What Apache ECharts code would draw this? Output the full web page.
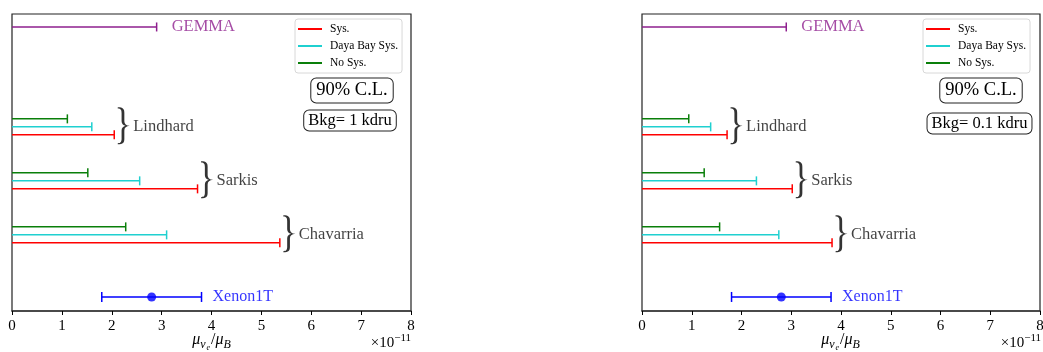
<!DOCTYPE html>
<html>
<head>
<meta charset="utf-8">
<script src="https://cdn.jsdelivr.net/npm/echarts@6/dist/echarts.min.js"></script>
<style>html,body{margin:0;padding:0;background:#fff}#c{width:1043px;height:352px}</style>
</head>
<body>
<div id="c"></div>
<script>
// ---- data ----
const groups = ['Lindhard', 'Sarkis', 'Chavarria'];
const groupY = [3.15, 2.15, 1.15];
const rowOffset = 0.148;
const seriesNames = ['Sys.', 'Daya Bay Sys.', 'No Sys.'];
// Bkg = 1 kdru (left panel)
const bkg1Sys = [2.05, 3.72, 5.37];
const bkg1Daya = [1.60, 2.56, 3.10];
const bkg1NoSys = [1.11, 1.52, 2.28];
// Bkg = 0.1 kdru (right panel)
const bkg01Sys = [1.71, 3.02, 3.82];
const bkg01Daya = [1.38, 2.30, 2.75];
const bkg01NoSys = [0.94, 1.25, 1.56];
const gemmaLimit = 2.9;
const gemmaY = 5.0;
const xenonCenter = 2.8;
const xenonLow = 1.8;
const xenonHigh = 3.8;
const xenonY = 0.0;
const xTicks = [0, 1, 2, 3, 4, 5, 6, 7, 8];
const panelTitles = ['Bkg= 1 kdru', 'Bkg= 0.1 kdru'];

const FONT = '"Liberation Serif", "Times New Roman", serif';
const colors = { 'Sys.': '#ff0000', 'Daya Bay Sys.': '#1fd0d0', 'No Sys.': '#0a7f0a' };
const gemmaColor = '#8e1f8e';
const xenonColor = '#0000ff';
const bracePath = 'path://M0,0 C4.5,0 5.5,2 5.5,6 L5.5,15 C5.5,18 7,19.6 10,20 C7,20.4 5.5,22 5.5,25 L5.5,34 C5.5,38 4.5,40 0,40 L0,38.8 C2.6,38.8 3.2,37 3.2,34 L3.2,25 C3.2,22.5 4.4,20.8 6.5,20 C4.4,19.2 3.2,17.5 3.2,15 L3.2,6 C3.2,3 2.6,1.2 0,1.2 Z';

function errRender(capLow, capHalf) {
  return function (params, api) {
    const lo = api.coord([api.value(0), api.value(2)]);
    const hi = api.coord([api.value(1), api.value(2)]);
    const c = api.visual('color');
    const st = { stroke: c, lineWidth: 1.5 };
    const ch = [
      { type: 'line', shape: { x1: lo[0], y1: lo[1], x2: hi[0], y2: hi[1] }, style: st },
      { type: 'line', shape: { x1: hi[0], y1: hi[1] - capHalf, x2: hi[0], y2: hi[1] + capHalf }, style: st }
    ];
    if (capLow) ch.push({ type: 'line', shape: { x1: lo[0], y1: lo[1] - capHalf, x2: lo[0], y2: lo[1] + capHalf }, style: st });
    return { type: 'group', children: ch };
  };
}

const grids = [
  { left: 12, right: 632, top: 14, bottom: 41 },
  { left: 642, right: 3, top: 14, bottom: 41 }
];
const panelData = [
  [bkg1Sys, bkg1Daya, bkg1NoSys],
  [bkg01Sys, bkg01Daya, bkg01NoSys]
];

const series = [];
const xAxes = [], yAxes = [];
grids.forEach((g, p) => {
  Object.assign(g, { show: true, borderColor: '#222', borderWidth: 1.2, backgroundColor: '#fff', containLabel: false, outerBoundsMode: 'none' });
  xAxes.push({
    gridIndex: p, type: 'value', min: 0, max: 8, interval: 1,
    axisLine: { show: true, onZero: false, lineStyle: { color: '#333', width: 1.5 } },
    axisTick: { show: true, inside: false, length: 4, lineStyle: { color: '#000', width: 1 } },
    axisLabel: { color: '#000', fontFamily: FONT, fontSize: 15, margin: 8, formatter: v => xTicks.includes(v) ? String(v) : '' },
    splitLine: { show: false }
  });
  yAxes.push({
    gridIndex: p, type: 'value', min: -0.26, max: 5.24, show: false, splitLine: { show: false }
  });
  const vals = panelData[p];
  seriesNames.forEach((nm, k) => {
    const off = k === 0 ? -rowOffset : (k === 1 ? 0 : rowOffset);
    series.push({
      type: 'custom', name: nm, xAxisIndex: p, yAxisIndex: p,
      color: colors[nm], itemStyle: { color: colors[nm] },
      renderItem: errRender(false, 4.5),
      encode: { x: [0, 1], y: 2 },
      data: vals[k].map((v, i) => [0, v, groupY[i] + off]),
      z: 3
    });
  });
  // GEMMA
  series.push({
    type: 'custom', name: 'GEMMA', xAxisIndex: p, yAxisIndex: p, color: gemmaColor,
    itemStyle: { color: gemmaColor },
    renderItem: errRender(false, 4.5), encode: { x: [0, 1], y: 2 },
    data: [[0, gemmaLimit, gemmaY]]
  });
  series.push({
    type: 'scatter', xAxisIndex: p, yAxisIndex: p, symbolSize: 0, silent: true,
    data: [[gemmaLimit, gemmaY]],
    label: { show: true, position: 'right', distance: 15, formatter: 'GEMMA', color: gemmaColor, fontFamily: FONT, fontSize: 16.5 }
  });
  // Xenon1T
  series.push({
    type: 'custom', name: 'Xenon1T', xAxisIndex: p, yAxisIndex: p, color: xenonColor,
    itemStyle: { color: xenonColor },
    renderItem: errRender(true, 5), encode: { x: [0, 1], y: 2 },
    data: [[xenonLow, xenonHigh, xenonY]]
  });
  series.push({
    type: 'scatter', xAxisIndex: p, yAxisIndex: p, symbol: 'circle', symbolSize: 9,
    itemStyle: { color: xenonColor }, data: [[xenonCenter, xenonY]], z: 5,
    label: { show: false }
  });
  series.push({
    type: 'scatter', xAxisIndex: p, yAxisIndex: p, symbolSize: 0, silent: true,
    data: [[xenonHigh, xenonY]],
    label: { show: true, position: 'right', distance: 11, formatter: 'Xenon1T', color: xenonColor, fontFamily: FONT, fontSize: 16 }
  });
  // braces + group labels
  series.push({
    type: 'scatter', xAxisIndex: p, yAxisIndex: p, symbol: bracePath, symbolSize: [12, 37],
    symbolOffset: [9.5, -1], symbolKeepAspect: false, silent: true,
    itemStyle: { color: '#000' },
    data: vals[0].map((v, i) => [v, groupY[i]])
  });
  series.push({
    type: 'scatter', xAxisIndex: p, yAxisIndex: p, symbolSize: 0, silent: true,
    data: vals[0].map((v, i) => ({ value: [v, groupY[i]], name: groups[i] })),
    label: { show: true, position: 'right', distance: 19, formatter: '{b}', color: '#111', fontFamily: FONT, fontSize: 16.5 }
  });
});

function legendFor(left) {
  return {
    orient: 'vertical', left: left, top: 19,
    padding: [3, 4, 3, 3], itemGap: 3, itemWidth: 24, itemHeight: 2,
    borderColor: '#d8d8d8', borderWidth: 1, borderRadius: 3, backgroundColor: '#fff',
    textStyle: { fontFamily: FONT, fontSize: 11.5, color: '#000', padding: [0, 0, 0, 3], lineHeight: 14 },
    selectedMode: false,
    data: seriesNames.map(n => ({ name: n, icon: 'rect', itemStyle: { color: colors[n] } }))
  };
}

function boxText(x, y, text, size, pad) {
  return {
    type: 'text', x: x, y: y, z: 100,
    style: {
      text: text, fill: '#000', font: size + 'px ' + FONT,
      align: 'center', verticalAlign: 'middle',
      backgroundColor: '#fff', borderColor: '#222', borderWidth: 1, borderRadius: 5,
      padding: pad
    }
  };
}
function expText(x) {
  return {
    type: 'text', x: x, y: 351, z: 100,
    style: {
      text: '{a|×10}{b|−11}', align: 'right', verticalAlign: 'bottom',
      rich: {
        a: { font: '15px ' + FONT, fill: '#000', verticalAlign: 'bottom' },
        b: { font: '11px ' + FONT, fill: '#000', verticalAlign: 'bottom', padding: [0, 0, 7, 0] }
      }
    }
  };
}
function axisNameText(x) {
  const it = 'italic ';
  return {
    type: 'text', x: x, y: 352, z: 100,
    style: {
      text: '{m|μ}{s|ν}{ss|e}{n|/}{m|μ}{s|B}', align: 'center', verticalAlign: 'bottom',
      rich: {
        m: { font: it + '16px ' + FONT, fill: '#000', verticalAlign: 'bottom', padding: [0, 0, 4, 0] },
        n: { font: '16px ' + FONT, fill: '#000', verticalAlign: 'bottom', padding: [0, 0, 4, 0] },
        s: { font: it + '12px ' + FONT, fill: '#000', verticalAlign: 'bottom', padding: [0, 1, 1, 0] },
        ss: { font: it + '8px ' + FONT, fill: '#000', verticalAlign: 'bottom', padding: [0, 1, 0, 0] }
      }
    }
  };
}

const option = {
  backgroundColor: '#fff',
  animation: false,
  grid: grids,
  xAxis: xAxes,
  yAxis: yAxes,
  legend: [legendFor(295), legendFor(923)],
  series: series,
  graphic: [
    boxText(352, 90.5, '90% C.L.', 18.5, [3, 5, 2, 5]),
    boxText(350, 120.5, panelTitles[0], 16.5, [2, 4, 1, 4]),
    boxText(981, 90.5, '90% C.L.', 18.5, [3, 5, 2, 5]),
    boxText(979.5, 123.5, panelTitles[1], 16.5, [2, 4, 1, 4]),
    expText(411),
    expText(1041),
    axisNameText(212),
    axisNameText(841)
  ]
};
const chart = echarts.init(document.getElementById('c'), null, { renderer: 'canvas' });
chart.setOption(option);
</script>
</body>
</html>
